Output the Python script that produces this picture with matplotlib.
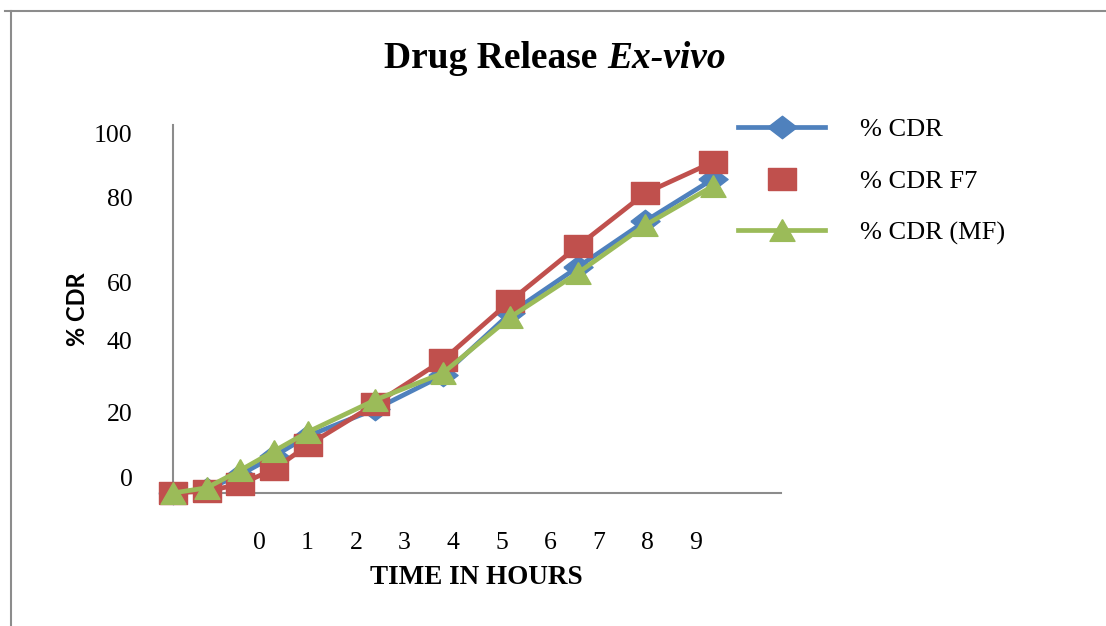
import matplotlib
matplotlib.use("Agg")
import numpy as np
from matplotlib import pyplot as plt
from matplotlib.lines import Line2D

# sampling times in hours and cumulative drug release (%)
hours = [0, 0.5, 1, 1.5, 2, 3, 4, 5, 6, 7, 8]
cdr = [0, 1.0, 5.0, 10.0, 15.5, 22.8, 32.0, 48.9, 61.4, 73.9, 85.3]
cdr_f7 = [0, 0.5, 2.4, 6.5, 13.0, 24.2, 36.1, 52.2, 67.1, 81.5, 89.9]
cdr_mf = [0, 1.4, 6.2, 11.4, 16.6, 25.3, 32.6, 47.8, 59.8, 72.8, 83.4]

series_names = ["% CDR", "% CDR F7", "% CDR (MF)"]
x_tick_labels = ["0", "1", "2", "3", "4", "5", "6", "7", "8", "9"]
y_tick_labels = ["0", "20", "40", "60", "80", "100"]

BLUE = "#4F81BD"
RED = "#C0504D"
GREEN = "#9BBB59"
GREY = "#8c8c8c"
SERIF = "Liberation Serif"

# office style markers are a little wider than tall
diamond = [(-1, 0), (0, 0.77), (1, 0), (0, -0.77), (-1, 0)]
square = [(-1, -0.8), (1, -0.8), (1, 0.8), (-1, 0.8), (-1, -0.8)]
triangle = [(0, 0.87), (-1, -0.87), (1, -0.87), (0, 0.87)]

fig = plt.figure(figsize=(11.06, 6.26), dpi=100)
ax = fig.add_axes([0.1564, 0.2125, 0.5493, 0.5879])

ax.plot(hours, cdr, color=BLUE, lw=3.4, marker=diamond, ms=21, clip_on=False, zorder=3)
ax.plot(hours, cdr_f7, color=RED, lw=3.4, marker=square, ms=19.5, clip_on=False, zorder=4)
ax.plot(hours, cdr_mf, color=GREEN, lw=3.4, marker=triangle, ms=18, clip_on=False, zorder=5)

ax.set_xlim(0, 9)
ax.set_ylim(0, 100)

# axis labels sit where the source chart put them, not on the data values
ax.set_xticks(np.linspace(1.274, 7.74, len(x_tick_labels)), x_tick_labels)
ax.set_yticks([4.1, 22.0, 41.3, 57.1, 80.4, 97.8], y_tick_labels)
ax.tick_params(length=0, labelsize=18.5)
ax.tick_params(axis="x", pad=28)
ax.tick_params(axis="y", pad=29)
for lab in ax.get_xticklabels() + ax.get_yticklabels():
    lab.set_family(SERIF)

for side in ["top", "right"]:
    ax.spines[side].set_visible(False)
for side in ["left", "bottom"]:
    ax.spines[side].set_color(GREY)
    ax.spines[side].set_linewidth(1.5)

ax.set_xlabel("TIME IN HOURS", fontsize=19.5, fontweight="bold", family=SERIF, labelpad=8)
ax.set_ylabel("% CDR", fontsize=17, fontweight="bold", family="Lato", labelpad=4)

handles = [
    Line2D([], [], color=BLUE, lw=3.4, marker=diamond, ms=21),
    Line2D([], [], color=RED, ls="none", marker=square, ms=19.5),
    Line2D([], [], color=GREEN, lw=3.4, marker=triangle, ms=18),
]
ax.legend(handles, series_names, loc="upper left", bbox_to_anchor=(0.646, 0.85),
          bbox_transform=fig.transFigure, frameon=False, handlelength=3.3,
          handletextpad=1.3, labelspacing=1.07, prop={"family": SERIF, "size": 19})

# title: upright bold part followed by bold italic part
title_y = 1 - 68 / 626
t1 = fig.text(0, title_y, "Drug Release", fontsize=27, fontweight="bold",
              family=SERIF, va="baseline")
t2 = fig.text(0, title_y, "Ex-vivo", fontsize=27, fontweight="bold",
              fontstyle="italic", family=SERIF, va="baseline")
fig.canvas.draw()
renderer = fig.canvas.get_renderer()
w1 = t1.get_window_extent(renderer).width
w2 = t2.get_window_extent(renderer).width
gap = 0.25 * 27 * 100 / 72
start = 555 - (w1 + gap + w2) / 2
t1.set_x(start / 1106)
t2.set_x((start + w1 + gap) / 1106)

# chart area border (top and left edges only)
fig.add_artist(Line2D([5 / 1106, 1], [1 - 11 / 626, 1 - 11 / 626],
                      transform=fig.transFigure, color=GREY, lw=1.5))
fig.add_artist(Line2D([11 / 1106, 11 / 1106], [0, 1 - 11 / 626],
                      transform=fig.transFigure, color=GREY, lw=1.5))

fig.savefig("out.png", dpi=100)
